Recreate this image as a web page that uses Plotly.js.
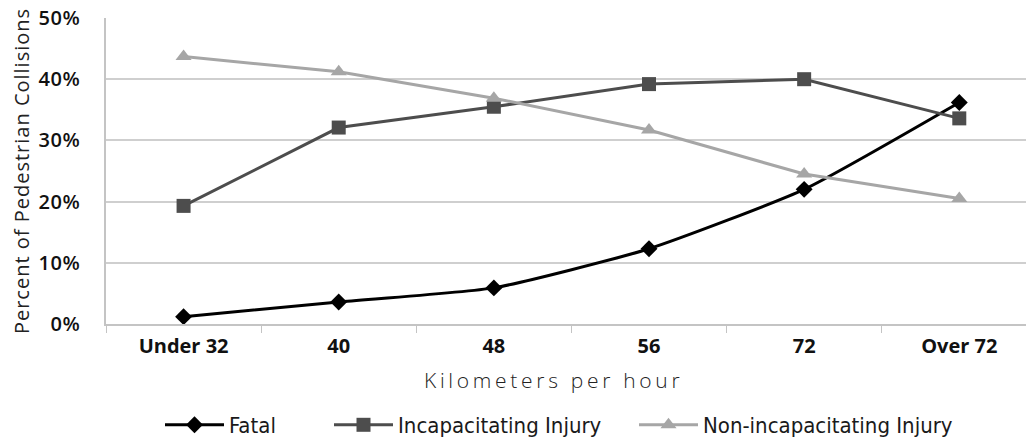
<!DOCTYPE html>
<html>
<head>
<meta charset="utf-8">
<script src="https://cdn.plot.ly/plotly-3.0.1.min.js"></script>
<style>
  body { margin: 0; background: #fff; }
  #chart { width: 1026px; height: 440px; }
  .ytitle { letter-spacing: 1px; }
  .annotation-text { letter-spacing: 3.7px; }
  .ytick text { letter-spacing: 0.5px; }
</style>
</head>
<body>
<div id="chart"></div>
<script>
const categories = ["Under 32", "40", "48", "56", "72", "Over 72"];
const fatal = [0.012, 0.036, 0.059, 0.123, 0.220, 0.362];
const incapacitating = [0.193, 0.321, 0.355, 0.392, 0.400, 0.336];
const nonIncapacitating = [0.437, 0.412, 0.369, 0.317, 0.245, 0.205];
const seriesNames = ["Fatal", "Incapacitating Injury", "Non-incapacitating Injury"];
const yTicks = [0, 0.1, 0.2, 0.3, 0.4, 0.5];
const xTitle = "Kilometers per hour";
const yTitle = "Percent of Pedestrian Collisions";

const traces = [
  {
    x: categories, y: fatal, name: seriesNames[0], type: "scatter", mode: "lines+markers",
    legend: "legend",
    line: { color: "#000000", width: 3, shape: "spline", smoothing: 0.5 },
    marker: { symbol: "diamond", size: 13, color: "#000000" }
  },
  {
    x: categories, y: incapacitating, name: seriesNames[1], type: "scatter", mode: "lines+markers",
    legend: "legend2",
    line: { color: "#4d4d4d", width: 3 },
    marker: { symbol: "square", size: 14, color: "#4d4d4d" }
  },
  {
    x: categories, y: nonIncapacitating, name: seriesNames[2], type: "scatter", mode: "lines+markers",
    legend: "legend3",
    line: { color: "#a6a6a6", width: 3 },
    marker: { symbol: "triangle-up", size: 14, color: "#a6a6a6" }
  }
];

const legendFont = { family: "'DejaVu Sans Condensed', 'Liberation Sans Narrow', sans-serif", size: 22, color: "#1a1a1a" };
function legendAt(xpx) {
  return {
    orientation: "h", xref: "container", yref: "container",
    x: xpx / 1026, xanchor: "left", y: 1 - 425 / 440, yanchor: "middle",
    font: legendFont, bgcolor: "rgba(0,0,0,0)", itemwidth: 59
  };
}

const layout = {
  width: 1026, height: 440,
  margin: { l: 106, r: 0, t: 18, b: 116, pad: 0 },
  paper_bgcolor: "#ffffff", plot_bgcolor: "#ffffff",
  showlegend: true,
  legend: legendAt(160),
  legend2: legendAt(329),
  legend3: legendAt(634),
  xaxis: {
    type: "category", categoryorder: "array", categoryarray: categories,
    range: [-0.5, 5.43],
    showgrid: false, zeroline: false,
    showline: true, linecolor: "#c4c4c4", linewidth: 1.5,
    ticks: "outside", tickson: "boundaries", ticklen: 7, tickcolor: "#c4c4c4", tickwidth: 1,
    ticklabelstandoff: 3,
    tickfont: { family: "'Open Sans', sans-serif", size: 20, color: "#111111", weight: "bold" }
  },
  yaxis: {
    range: [0, 0.5], tickvals: yTicks, tickformat: ".0%",
    showgrid: true, gridcolor: "#cfcfcf", gridwidth: 1.5,
    zeroline: false,
    showline: true, linecolor: "#c4c4c4", linewidth: 1.5,
    ticks: "", ticklabelstandoff: 20,
    tickfont: { family: "'Open Sans', sans-serif", size: 20, color: "#111111", weight: 600 },
    title: { text: yTitle, standoff: 4,
      font: { family: "'Open Sans', sans-serif", size: 20, color: "#222222", weight: 400 } }
  },
  annotations: [
    { text: xTitle, xref: "paper", yref: "paper", x: (553 - 106) / 920, y: (324 - 380) / 306,
      xanchor: "center", yanchor: "middle", showarrow: false,
      font: { family: "'Open Sans', sans-serif", size: 21, color: "#222222", weight: 300 } }
  ]
};

Plotly.newPlot("chart", traces, layout, { displayModeBar: false, responsive: false });
</script>
</body>
</html>
